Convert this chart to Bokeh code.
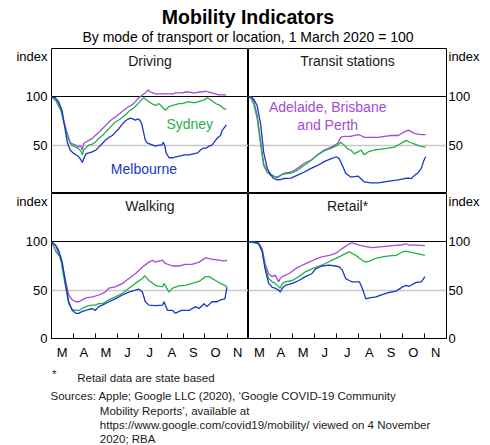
from bokeh.plotting import figure
from bokeh.layouts import column, row
from bokeh.models import Range1d, FixedTicker, Grid
from bokeh.embed import file_html
from bokeh.resources import INLINE
from bokeh.core.properties import value

FONT = "Liberation Sans"
BLUE = "#1B35C6"
GREEN = "#1FB04A"
PURPLE = "#A24CD8"

# x values are days since 1 March 2020
month_labels = ["M", "A", "M", "J", "J", "A", "S", "O", "N"]
month_starts = [0, 31, 61, 92, 122, 153, 184, 214, 245, 275]
month_mids = [15, 45, 76, 106, 137, 168, 198, 229, 260]

# ---- Driving ----
drv_mel_day = [0,5,10,15,17,20,22,26,30,34,38,41,43,45,48,52,57,62,66,70,75,80,85,90,94,98,103,107,110,114,117,120,122,124,126,128,131,134,138,145,150,154,156,158,160,164,170,173,180,186,192,198,204,208,212,216,220,224,228,231,234,236,238,241,244]
drv_mel_val = [100,99,95,85,75,62,53,45,42,40,38,35,32,36,41,42,43,45,48,51,55,58,60,64,67,71,75,77,78,77,76,77,77,75,72,65,55,52,51,49,50,50,53,50,42,37,37,38,39,40,40,41,42,45,47,47,49,50,54,57,59,60,65,68,71]
drv_syd_day = [0,6,13,17,22,26,30,34,38,41,43,45,48,52,57,61,66,71,75,80,85,89,94,99,104,108,112,117,122,127,129,132,136,140,145,150,154,159,164,168,173,178,182,187,192,197,201,205,210,214,217,220,224,229,233,236,240,244]
drv_syd_val = [100,96,86,74,60,52,49,48,46,44,40,45,47,50,51,53,57,60,63,67,71,74,76,79,82,85,87,90,94,98,99,97,95,93,91,93,90,86,90,91,92,93,93,94,95,94,94,95,96,97,99,98,96,93,92,91,88,87]
drv_oth_day = [0,6,13,17,22,26,30,34,38,40,43,45,48,52,57,61,66,71,75,80,85,89,94,99,104,108,113,117,122,127,131,135,138,142,145,150,155,160,164,170,173,178,182,187,192,197,201,206,210,215,219,224,229,233,238,244]
drv_oth_val = [100,98,88,76,62,53,51,50,48,50,45,52,53,55,57,60,63,67,70,74,77,79,82,85,88,90,92,95,99,102,104,107,105,104,103,103,103,103,103,103,104,104,104,105,105,104,104,105,105,106,105,104,103,102,102,102]

# ---- Transit stations ----
trn_mel_day = [0,3,7,12,17,21,26,31,35,40,45,49,59,68,77,87,96,105,115,122,126,131,135,142,152,161,170,180,189,198,208,217,222,226,231,235,240,243,246]
trn_mel_val = [100,100,98,91,71,43,26,19,15.5,14,14.5,15.5,16,19,22,26,29,33,36,38,36,28,21,17,18,12,11,11,12,13,14,15.5,16,15.5,19,21,26,33,38]
trn_syd_day = [0,3,7,12,17,21,26,31,35,40,45,49,59,68,77,87,96,105,115,124,128,133,138,142,147,152,156,161,166,175,184,194,203,212,219,224,231,238,246]
trn_syd_val = [100,99,93,78,50,29,22,20,18,17,19,20,21,24,29,34.5,40,44,47,50,53,50,46,45,41,43,45,40,43,45,46,47,48,52,55,53,51,49,48]
trn_oth_day = [0,3,7,12,17,21,26,31,35,40,45,49,59,68,77,87,96,105,115,124,128,133,142,152,156,161,170,180,189,198,208,217,222,226,231,240,246]
trn_oth_val = [100,100,96.5,81,53,31,22,19,18,16,19,21,22,26,31,34.5,40,45,48,52,58,59,59,61,60,58,58,58,59,60,60,64,65.5,64,62,61,61]

# ---- Walking ----
wlk_mel_day = [0,6,10,15,20,24,29,34,38,43,48,52,57,61,66,71,80,89,99,108,117,122,127,131,136,145,155,157,162,169,173,178,182,192,201,206,213,217,224,231,236,242,245]
wlk_mel_val = [100,96.5,91,79,55,38,29,26,26,28,29,30,31,29,33,34.5,38,41,45,48,50,51,48,38,34.5,34,34.5,38,29,29,26,28,29,29,33,31,36,33,38,38,40,41,53]
wlk_syd_day = [0,6,10,13,15,20,24,29,34,38,43,48,52,57,61,66,71,80,89,99,108,117,127,130,136,145,155,157,164,169,178,187,196,206,215,220,229,236,242,245]
wlk_syd_val = [100,90,86,84.5,72,52,36,30,29,29,31,33,34,34.5,34.5,36,36,40,43,46.6,52,57,62,65,60,55,53.4,57,48,52,54.5,55,57,59,64,64,60,57,55,53.4]
wlk_oth_day = [0,6,10,15,20,24,29,34,38,43,48,57,66,75,80,89,99,108,117,127,136,141,145,155,159,169,178,187,196,206,215,224,234,241,245]
wlk_oth_val = [100,95,88,76,58.6,45,40,38,38,40,42,43,45,48,52,53.4,57,62,67,74,79,81,79,81,77.6,75,75,76.6,76.6,79,83.4,82,81,80,81]

# ---- Retail ----
rtl_mel_day = [0,9,14,19,23,28,33,37,42,44,47,51,61,70,79,88,93,102,112,121,126,130,135,140,144,154,158,163,168,177,186,195,205,214,219,223,233,240,245]
rtl_mel_val = [100,100,98,90,72,57,53,52,50,48,52,55,57,60,64,67,72,75,76,75,74,71,62,60,58.6,58.6,52,41,42,43,45.5,47.6,49,53.4,55,54,58,58.6,64]
rtl_syd_day = [0,14,19,23,28,33,37,42,44,47,51,61,70,79,88,98,107,116,126,135,140,149,154,158,163,168,177,186,195,205,214,219,223,233,245]
rtl_syd_val = [100,98,91,74,62,58.6,57,53.4,52,57,58.6,60,64,69,72,75,77.6,81,84.5,88,89.7,86,83,81,79,80,83,84.5,85.5,86,89.7,90.3,89.7,88,86]
rtl_oth_day = [0,14,19,23,28,33,37,42,44,47,51,56,65,75,84,93,102,112,121,130,140,144,154,163,172,186,200,214,219,223,233,245]
rtl_oth_val = [100,99,93,77.6,67,64,65.5,58.6,62,64,65.5,67,72,76,79,82,84.5,86,88,93,98,99,96.5,95,94,95,96,97,98,96.5,96.5,96]

panel_titles = ["Driving", "Transit stations", "Walking", "Retail*"]

LEFT_BORDER = 51
RIGHT_BORDER = 38
TOTAL_W = LEFT_BORDER + 197 + 198 + RIGHT_BORDER


def make_panel(title, series, left, bottom, labels):
    p = figure(frame_width=197 if left else 198, frame_height=145,
               x_range=Range1d(0, 275), y_range=Range1d(0, 150),
               output_backend="svg", toolbar_location=None,
               x_axis_location="below" if bottom else None,
               y_axis_location="left" if left else "right",
               min_border_left=LEFT_BORDER if left else 0,
               min_border_right=0 if left else RIGHT_BORDER,
               min_border_top=0, min_border_bottom=22 if bottom else 0)
    p.outline_line_color = "black"
    p.outline_line_width = 1
    p.background_fill_color = "white"
    p.border_fill_color = "white"

    yt = [0, 50, 100, 142] if bottom else [50, 100, 142]
    p.yaxis.ticker = FixedTicker(ticks=yt)
    p.yaxis.major_label_overrides = {0: "0", 50: "50", 100: "100", 142: "index"}
    p.yaxis.axis_line_color = None
    p.yaxis.major_tick_line_color = None
    p.yaxis.minor_tick_line_color = None
    p.yaxis.major_tick_in = 0
    p.yaxis.major_tick_out = 0
    p.yaxis.major_label_standoff = 4 if left else 2
    p.yaxis.major_label_text_font = FONT
    p.yaxis.major_label_text_font_size = "13px"
    p.yaxis.major_label_text_color = "black"

    p.xgrid.visible = False
    p.ygrid.ticker = FixedTicker(ticks=[50])
    p.ygrid.grid_line_color = "#C8C8C8"
    p.ygrid.grid_line_width = 1.5
    p.add_layout(Grid(dimension=1, ticker=FixedTicker(ticks=[100]),
                      grid_line_color="black", grid_line_width=1))

    if bottom:
        p.xaxis.ticker = FixedTicker(ticks=month_mids, minor_ticks=month_starts)
        p.xaxis.major_label_overrides = {m: l for m, l in zip(month_mids, month_labels)}
        p.xaxis.major_tick_line_color = None
        p.xaxis.major_tick_in = 0
        p.xaxis.major_tick_out = 0
        p.xaxis.minor_tick_line_color = "black"
        p.xaxis.minor_tick_in = 5
        p.xaxis.minor_tick_out = 0
        p.xaxis.axis_line_color = "black"
        p.xaxis.major_label_standoff = 6
        p.xaxis.major_label_text_font = FONT
        p.xaxis.major_label_text_font_size = "13px"
        p.xaxis.major_label_text_color = "black"

    for d, v, c in series:
        p.line(d, v, line_color=c, line_width=1.3)

    p.text(x=[137.5], y=[137.5], text=[title], text_align="center",
           text_baseline="middle", text_font=value(FONT),
           text_font_size="14px", text_color="#1a1a1a")
    for (lx, ly, lt, lc) in labels:
        p.text(x=[lx], y=[ly], text=[lt], text_align="center",
               text_baseline="middle", text_font=value(FONT),
               text_font_size="14px", text_color=lc)
    return p


p_drv = make_panel(panel_titles[0],
                   [(drv_oth_day, drv_oth_val, PURPLE), (drv_syd_day, drv_syd_val, GREEN),
                    (drv_mel_day, drv_mel_val, BLUE)],
                   True, False,
                   [(193, 71.5, "Sydney", GREEN), (129, 25, "Melbourne", BLUE)])
p_trn = make_panel(panel_titles[1],
                   [(trn_oth_day, trn_oth_val, PURPLE), (trn_syd_day, trn_syd_val, GREEN),
                    (trn_mel_day, trn_mel_val, BLUE)],
                   False, False,
                   [(110, 89.3, "Adelaide, Brisbane", PURPLE), (110, 70.6, "and Perth", PURPLE)])
p_wlk = make_panel(panel_titles[2],
                   [(wlk_oth_day, wlk_oth_val, PURPLE), (wlk_syd_day, wlk_syd_val, GREEN),
                    (wlk_mel_day, wlk_mel_val, BLUE)],
                   True, True, [])
p_rtl = make_panel(panel_titles[3],
                   [(rtl_oth_day, rtl_oth_val, PURPLE), (rtl_syd_day, rtl_syd_val, GREEN),
                    (rtl_mel_day, rtl_mel_val, BLUE)],
                   False, True, [])


def text_canvas(h):
    f = figure(width=TOTAL_W, height=h, x_range=Range1d(0, TOTAL_W), y_range=Range1d(h, 0),
               output_backend="svg", toolbar_location=None,
               x_axis_location=None, y_axis_location=None, min_border=0)
    f.outline_line_color = None
    f.xgrid.visible = False
    f.ygrid.visible = False
    f.background_fill_color = "white"
    f.border_fill_color = "white"
    return f


head = text_canvas(48)
head.text(x=[247.5], y=[16.5], text=["Mobility Indicators"], text_align="center",
          text_baseline="middle", text_font=value(FONT), text_font_size="19.5px",
          text_font_style="bold", text_color="black")
head.text(x=[247.5], y=[36], text=["By mode of transport or location, 1 March 2020 = 100"],
          text_align="center", text_baseline="middle", text_font=value(FONT),
          text_font_size="14px", text_color="black")

foot = text_canvas(84)
notes = [
    (51.5, 11, "*"),
    (76.7, 15, "Retail data are state based"),
    (50, 33.7, "Sources: Apple; Google LLC (2020), \u2018Google COVID-19 Community"),
    (99.3, 48.3, "Mobility Reports\u2019, available at"),
    (99.3, 62.3, "https://www.google.com/covid19/mobility/ viewed on 4 November"),
    (99.3, 76.3, "2020; RBA"),
]
foot.text(x=[n[0] for n in notes], y=[n[1] for n in notes], text=[n[2] for n in notes],
          text_align="left", text_baseline="middle", text_font=value(FONT),
          text_font_size="11.5px", text_color="#1a1a1a")

layout = column(head, row(p_drv, p_trn, spacing=0), row(p_wlk, p_rtl, spacing=0), foot, spacing=0)

open("out.html", "w").write(file_html(layout, INLINE))
